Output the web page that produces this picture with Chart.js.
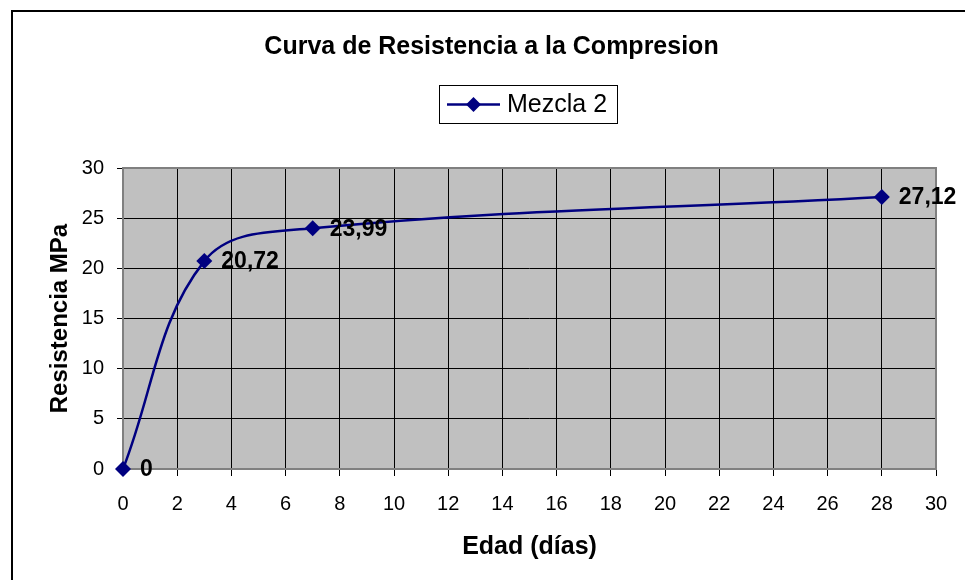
<!DOCTYPE html>
<html>
<head>
<meta charset="utf-8">
<script src="https://cdn.jsdelivr.net/npm/chart.js@4/dist/chart.umd.min.js"></script>
<style>
  html, body { margin: 0; padding: 0; background: #fff; }
  #wrap { width: 965px; height: 580px; }
</style>
</head>
<body>
<div id="wrap"><canvas id="chart" width="965" height="580"></canvas></div>
<script>
const edades = [0, 3, 7, 28];
const resistencia = [0, 20.72, 23.99, 27.12];
const serieNombre = "Mezcla 2";
const xTicks = [0, 2, 4, 6, 8, 10, 12, 14, 16, 18, 20, 22, 24, 26, 28, 30];
const yTicks = [0, 5, 10, 15, 20, 25, 30];

const FONT = '"Liberation Sans", Arial, sans-serif';
const NAVY = "#000080";

const points = edades.map((x, i) => ({ x, y: resistencia[i] }));

// fondo blanco, marco exterior y fondo gris del area de trazado
const backgroundPlugin = {
  id: "background",
  beforeDraw(chart) {
    const { ctx, chartArea: a } = chart;
    ctx.save();
    ctx.fillStyle = "#fff";
    ctx.fillRect(0, 0, chart.width, chart.height);
    ctx.strokeStyle = "#000";
    ctx.lineWidth = 2;
    ctx.strokeRect(12, 11, chart.width + 20, chart.height + 20);
    ctx.fillStyle = "#c0c0c0";
    ctx.fillRect(a.left, a.top, a.right - a.left, a.bottom - a.top);
    ctx.restore();
  },
  beforeDatasetsDraw(chart) {
    const { ctx, chartArea: a } = chart;
    ctx.save();
    ctx.strokeStyle = "#808080";
    ctx.lineWidth = 2;
    ctx.strokeRect(a.left, a.top, a.right - a.left, a.bottom - a.top);
    ctx.restore();
  },
};

// etiquetas de datos a la derecha de cada punto
const labelsPlugin = {
  id: "pointLabels",
  afterDatasetsDraw(chart) {
    const { ctx } = chart;
    const meta = chart.getDatasetMeta(0);
    ctx.save();
    ctx.font = `bold 23px ${FONT}`;
    ctx.fillStyle = "#000";
    ctx.textBaseline = "middle";
    ctx.textAlign = "left";
    meta.data.forEach((pt, i) => {
      const text = String(resistencia[i]).replace(".", ",");
      ctx.fillText(text, pt.x + 17, pt.y + 1);
    });
    ctx.restore();
  },
};

// leyenda con recuadro, como en Excel
const legendPlugin = {
  id: "boxLegend",
  afterDraw(chart) {
    const { ctx } = chart;
    ctx.save();
    ctx.fillStyle = "#fff";
    ctx.fillRect(439, 85, 178, 38);
    ctx.strokeStyle = "#000";
    ctx.lineWidth = 1;
    ctx.strokeRect(439.5, 85.5, 178, 38);
    ctx.strokeStyle = NAVY;
    ctx.lineWidth = 2.5;
    ctx.beginPath();
    ctx.moveTo(447, 104.5);
    ctx.lineTo(500, 104.5);
    ctx.stroke();
    ctx.fillStyle = NAVY;
    ctx.beginPath();
    ctx.moveTo(473.5, 97);
    ctx.lineTo(481, 104.5);
    ctx.lineTo(473.5, 112);
    ctx.lineTo(466, 104.5);
    ctx.closePath();
    ctx.fill();
    ctx.fillStyle = "#000";
    ctx.font = `25px ${FONT}`;
    ctx.textBaseline = "middle";
    ctx.fillText(serieNombre, 507, 105);
    ctx.restore();
  },
};

new Chart(document.getElementById("chart"), {
  type: "line",
  data: {
    datasets: [
      {
        label: serieNombre,
        data: points,
        borderColor: NAVY,
        backgroundColor: NAVY,
        borderWidth: 2.5,
        tension: 0.38,
        pointStyle: "rectRot",
        pointRadius: 8,
        pointHoverRadius: 8,
        pointBorderWidth: 0,
        clip: false,
      },
    ],
  },
  options: {
    responsive: false,
    animation: false,
    layout: { padding: { left: 47, right: 29, top: 0, bottom: 0 } },
    plugins: {
      legend: { display: false },
      tooltip: { enabled: false },
      title: {
        display: true,
        text: "Curva de Resistencia a la Compresion",
        color: "#000",
        font: { family: FONT, size: 25, weight: "bold", lineHeight: 1.2 },
        padding: { top: 32, bottom: 106 },
      },
    },
    scales: {
      x: {
        type: "linear",
        min: 0,
        max: 30,
        afterBuildTicks: (scale) => {
          scale.ticks = xTicks.map((v) => ({ value: v }));
        },
        afterFit: (scale) => {
          scale.height = 111;
        },
        grid: { color: "#000", lineWidth: 1, tickLength: 7 },
        border: { display: false },
        ticks: {
          color: "#000",
          font: { family: FONT, size: 20 },
          padding: 16,
          maxRotation: 0,
        },
        title: {
          display: true,
          text: "Edad (días)",
          color: "#000",
          font: { family: FONT, size: 25, weight: "bold", lineHeight: 1 },
          padding: { top: 0, bottom: 20 },
        },
      },
      y: {
        type: "linear",
        min: 0,
        max: 30,
        afterBuildTicks: (scale) => {
          scale.ticks = yTicks.map((v) => ({ value: v }));
        },
        afterFit: (scale) => {
          scale.width = 76;
        },
        grid: { color: "#000", lineWidth: 1, tickLength: 6 },
        border: { display: false },
        ticks: {
          color: "#000",
          font: { family: FONT, size: 20 },
          padding: 13,
        },
        title: {
          display: true,
          text: "Resistencia MPa",
          color: "#000",
          font: { family: FONT, size: 24, weight: "bold", lineHeight: 1 },
          padding: { top: 1, bottom: 0 },
        },
      },
    },
  },
  plugins: [backgroundPlugin, labelsPlugin, legendPlugin],
});
</script>
</body>
</html>
